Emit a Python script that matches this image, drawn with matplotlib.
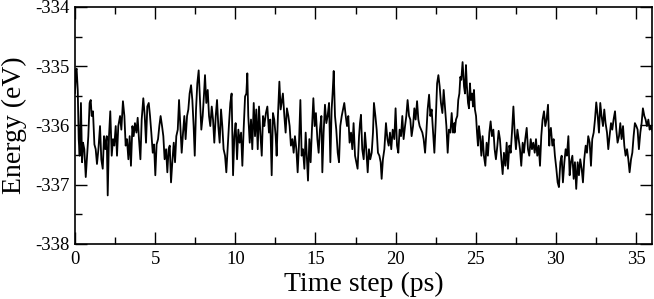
import matplotlib
matplotlib.use("Agg")
import matplotlib.pyplot as plt
from matplotlib.ticker import MultipleLocator

plt.rcParams['font.family'] = ['Liberation Serif', 'DejaVu Serif']
plt.rcParams['axes.unicode_minus'] = False

# Energy trace (time in ps, energy in eV)
time_ps = [
    0.00, 0.06, 0.10, 0.17, 0.23, 0.29, 0.37, 0.44, 0.50, 0.58, 0.67, 0.75, 0.83, 0.91, 0.98,
    1.04, 1.12, 1.21, 1.29, 1.37, 1.46, 1.56, 1.64, 1.73, 1.81, 1.89, 1.98,
    2.04, 2.12, 2.20, 2.29, 2.37, 2.45, 2.54, 2.62, 2.70, 2.81, 2.89, 2.99,
    3.08, 3.16, 3.24, 3.33, 3.41, 3.49, 3.58, 3.66, 3.74, 3.83, 3.91, 3.99,
    4.08, 4.16, 4.26, 4.35, 4.43, 4.51, 4.60, 4.68, 4.76, 4.85, 4.93,
    5.01, 5.09, 5.18, 5.26, 5.34, 5.43, 5.51, 5.59, 5.68, 5.76, 5.84,
    5.91, 5.99, 6.07, 6.16, 6.24, 6.32, 6.41, 6.49, 6.57, 6.655, 6.74, 6.82, 6.90, 6.99,
    7.07, 7.15, 7.24, 7.32, 7.40, 7.47, 7.55, 7.63, 7.715, 7.80, 7.88, 7.965,
    8.05, 8.11, 8.19, 8.28, 8.36, 8.44, 8.53, 8.61, 8.69, 8.78, 8.86, 8.94,
    9.025, 9.11, 9.19, 9.27, 9.36, 9.44, 9.52, 9.61, 9.69, 9.77, 9.86, 9.94,
    10.02, 10.11, 10.19, 10.27, 10.36, 10.44, 10.52, 10.61, 10.69, 10.75, 10.81, 10.90, 10.98,
    11.06, 11.15, 11.23, 11.31, 11.40, 11.48, 11.56, 11.65, 11.73, 11.81,
    11.83, 11.91, 12.00, 12.10, 12.18, 12.27, 12.35, 12.43, 12.52, 12.58,
    12.66, 12.75, 12.83, 12.91, 12.97, 13.06, 13.14, 13.22, 13.31, 13.39,
    13.47, 13.56, 13.64, 13.72, 13.81, 13.89, 13.97, 14.06, 14.14, 14.22,
    14.31, 14.39, 14.47, 14.535, 14.62, 14.70, 14.78, 14.87, 14.95, 15.03,
    15.12, 15.20, 15.28, 15.37, 15.43, 15.51, 15.595, 15.68, 15.76, 15.85,
    15.93, 16.01, 16.07, 16.14, 16.22, 16.30, 16.39, 16.47, 16.55, 16.64,
    16.72, 16.80, 16.89, 16.97, 17.05, 17.13, 17.22, 17.30, 17.38, 17.47,
    17.55, 17.63, 17.72,
    17.78, 17.84, 17.92, 18.01, 18.09, 18.17, 18.26, 18.34, 18.42, 18.51,
    18.59, 18.65, 18.74, 18.82, 18.90, 18.99, 19.07, 19.13, 19.21, 19.30,
    19.40, 19.49, 19.57, 19.65, 19.73, 19.82, 19.92, 20.00, 20.09, 20.17,
    20.25, 20.34, 20.42, 20.50, 20.59, 20.67, 20.75, 20.84, 20.92, 21.00,
    21.09, 21.17, 21.25, 21.34, 21.42, 21.50, 21.59, 21.67, 21.75, 21.84,
    21.92, 22.00, 22.09, 22.17, 22.25, 22.34, 22.42, 22.50, 22.59, 22.67,
    22.75, 22.83, 22.92, 23.00, 23.08, 23.17, 23.25, 23.33, 23.42, 23.50,
    23.58, 23.67,
    23.68, 23.77, 23.85, 23.91, 23.98, 24.04, 24.10, 24.18, 24.27, 24.33,
    24.39, 24.45, 24.52, 24.58, 24.64, 24.70, 24.77, 24.83, 24.89, 24.95,
    25.02, 25.08, 25.14, 25.20, 25.27, 25.35, 25.43, 25.51, 25.60, 25.68,
    25.76, 25.85, 25.93, 26.01, 26.10, 26.18, 26.26, 26.35, 26.43, 26.51,
    26.60, 26.68, 26.76, 26.85, 26.93, 27.01, 27.10, 27.18, 27.26, 27.35,
    27.43, 27.51, 27.60, 27.68, 27.76, 27.84, 27.93, 28.01, 28.09, 28.18,
    28.26, 28.34, 28.43, 28.51, 28.59, 28.68, 28.76, 28.84, 28.93, 29.01,
    29.09, 29.17, 29.26, 29.34, 29.42, 29.51, 29.59,
    29.61, 29.69, 29.78, 29.86, 29.94, 30.03, 30.11, 30.19, 30.28, 30.36,
    30.44, 30.53, 30.61, 30.69, 30.78, 30.86, 30.94, 31.03, 31.11, 31.19,
    31.27, 31.36, 31.44, 31.52, 31.61, 31.69, 31.77, 31.86, 31.94, 32.02,
    32.11, 32.19, 32.27, 32.36, 32.44, 32.52, 32.61, 32.69, 32.77, 32.85,
    32.94, 33.02, 33.10, 33.19, 33.27, 33.35, 33.44, 33.52, 33.60, 33.69,
    33.77, 33.85, 33.94, 34.02, 34.10, 34.19, 34.27, 34.35, 34.44, 34.52,
    34.60, 34.69, 34.77, 34.85, 34.93, 35.02, 35.10, 35.18, 35.27, 35.35,
    35.43, 35.52, 35.60, 35.68, 35.77, 35.85, 35.93, 36.02,
]

energy_ev = [
    -335.45, -335.07, -335.04, -335.40, -336.23, -336.51, -335.62, -336.62, -336.29, -336.40, -336.87, -336.51, -336.18, -335.62, -335.57,
    -335.84, -335.76, -336.32, -336.40, -336.65, -336.40, -336.01, -336.57, -336.73, -336.18, -336.40, -336.18,
    -337.18, -336.18, -335.76, -336.51, -336.23, -336.34, -336.01, -336.51, -336.01, -335.84, -336.07, -335.59,
    -335.84, -336.34, -336.23, -336.57, -336.18, -336.68, -336.01, -336.18, -335.96, -336.12, -335.87, -336.23,
    -336.57, -335.90, -335.54, -335.84, -336.29, -335.68, -335.62, -335.84, -336.12, -336.46, -336.32,
    -336.84, -336.32, -336.23, -336.01, -335.84, -336.01, -336.18, -336.57, -336.40, -336.79, -336.40,
    -336.34, -336.96, -336.62, -336.29, -336.62, -336.18, -336.07, -335.57, -336.01, -336.46, -336.12, -335.84, -336.23, -335.84,
    -335.73, -335.46, -335.32, -335.57, -336.01, -336.51, -335.73, -335.29, -335.07, -335.57, -336.07, -335.84,
    -335.46, -335.15, -335.62, -335.40, -335.84, -336.01, -335.68, -335.90, -336.29, -335.84, -335.57, -336.01,
    -336.29, -335.73, -336.01, -336.40, -336.51, -336.79, -336.40, -335.96, -335.62, -335.46, -336.84, -336.18,
    -335.96, -336.57, -336.07, -336.29, -336.12, -336.68, -336.07, -335.51, -335.46, -335.12, -335.84, -336.29, -335.90,
    -336.40, -335.62, -336.18, -335.73, -336.40, -335.68, -336.12, -336.51, -335.84, -336.01,
    -335.96, -335.79, -335.68, -336.12, -335.90, -336.84, -335.79, -335.90, -336.18, -336.51,
    -335.84, -335.26, -335.73, -335.57, -335.46, -335.84, -336.12, -335.71, -335.84, -336.01,
    -336.34, -336.23, -336.46, -336.18, -336.40, -336.79, -336.34, -335.57, -336.51, -336.40,
    -336.73, -336.12, -336.57, -336.93, -336.23, -336.62, -336.07, -335.54, -336.01, -335.79,
    -336.23, -336.46, -336.07, -335.84, -336.79, -336.12, -335.65, -335.96, -335.84, -335.62,
    -336.62, -335.73, -335.46, -335.08, -335.84, -336.07, -336.46, -336.62, -336.01, -335.84,
    -335.73, -335.62, -335.84, -336.01, -335.84, -336.29, -336.12, -336.40, -335.96, -336.51,
    -336.62, -336.73, -336.18,
    -335.96, -335.82, -336.40, -336.57, -336.12, -336.40, -336.79, -336.40, -336.57, -336.46,
    -336.12, -335.62, -335.84, -336.07, -336.46, -336.51, -336.62, -336.90, -336.57, -336.40,
    -335.96, -336.23, -336.34, -336.12, -336.40, -336.07, -336.23, -335.71, -336.34, -336.46,
    -336.07, -336.18, -335.84, -336.23, -336.01, -335.84, -335.57, -335.84, -335.90, -336.18,
    -336.01, -335.71, -335.90, -335.59, -335.90, -336.01, -336.07, -336.12, -336.23, -336.46,
    -336.12, -335.73, -335.48, -335.84, -335.73, -336.12, -336.46, -335.96, -335.29, -335.15,
    -335.34, -335.62, -335.79, -335.40, -335.68, -336.01, -336.46, -336.07, -336.12, -335.79,
    -336.12, -335.96,
    -336.12, -335.90, -335.84, -335.57, -335.46, -335.18, -335.23, -334.93, -335.34, -335.46,
    -334.98, -335.34, -335.62, -335.71, -335.29, -335.57, -335.46, -335.68, -335.40, -335.73,
    -335.84, -336.12, -336.34, -336.01, -336.18, -336.51, -336.18, -336.51, -336.68, -336.29,
    -336.51, -336.12, -335.93, -336.18, -336.07, -336.40, -336.57, -336.34, -336.09, -336.23,
    -336.57, -336.82, -336.46, -336.68, -336.29, -336.73, -336.34, -336.46, -336.12, -335.68,
    -336.12, -336.40, -336.07, -336.23, -336.40, -336.68, -336.29, -336.46, -336.23, -336.04,
    -336.40, -336.51, -336.23, -336.40, -336.29, -336.46, -336.23, -336.51, -336.34, -336.68,
    -336.18, -335.90, -335.76, -336.01, -335.90, -335.65, -336.34,
    -336.18, -336.04, -336.34, -336.23, -336.51, -336.73, -336.96, -337.04, -336.62, -336.51,
    -336.96, -336.62, -336.40, -336.51, -336.18, -336.84, -336.62, -336.51, -336.90, -336.62,
    -337.07, -336.62, -336.84, -336.57, -336.73, -336.96, -336.57, -336.34, -336.46, -336.18,
    -336.29, -336.68, -336.23, -336.12, -335.90, -335.61, -335.84, -336.12, -335.62, -335.84,
    -336.01, -335.73, -335.96, -336.12, -336.40, -336.18, -335.96, -336.07, -335.90, -335.76,
    -336.07, -336.29, -336.18, -335.96, -336.23, -336.01, -336.34, -336.51, -336.40, -336.57,
    -336.79, -336.57, -336.46, -336.18, -335.96, -336.01, -336.07, -336.40, -336.12, -335.96,
    -335.71, -335.84, -335.90, -336.01, -335.90, -336.07, -336.01, -336.09,
]

fig = plt.figure(figsize=(6.54, 2.99), dpi=100)
ax = fig.add_axes([0.1147, 0.184, 0.8823, 0.7926])

ax.plot(time_ps, energy_ev, color='black', linewidth=1.3)

ax.set_xlim(0, 36)
ax.set_ylim(-338, -334)
ax.xaxis.set_major_locator(MultipleLocator(5))
ax.xaxis.set_minor_locator(MultipleLocator(2.5))
ax.yaxis.set_major_locator(MultipleLocator(1))
ax.yaxis.set_minor_locator(MultipleLocator(0.5))

ax.tick_params(which='both', direction='in', top=True, right=True,
               labelsize=13.5, width=1.0)
ax.tick_params(which='major', length=8.5)
ax.tick_params(which='minor', length=4.7)
ax.tick_params(axis='x', pad=5)
ax.tick_params(axis='y', pad=4)
for sp in ax.spines.values():
    sp.set_linewidth(1.2)

ax.set_xlabel('Time step (ps)', fontsize=20, labelpad=3)
ax.set_ylabel('Energy (eV)', fontsize=20, labelpad=6)

fig.savefig('out.png', dpi=100)
